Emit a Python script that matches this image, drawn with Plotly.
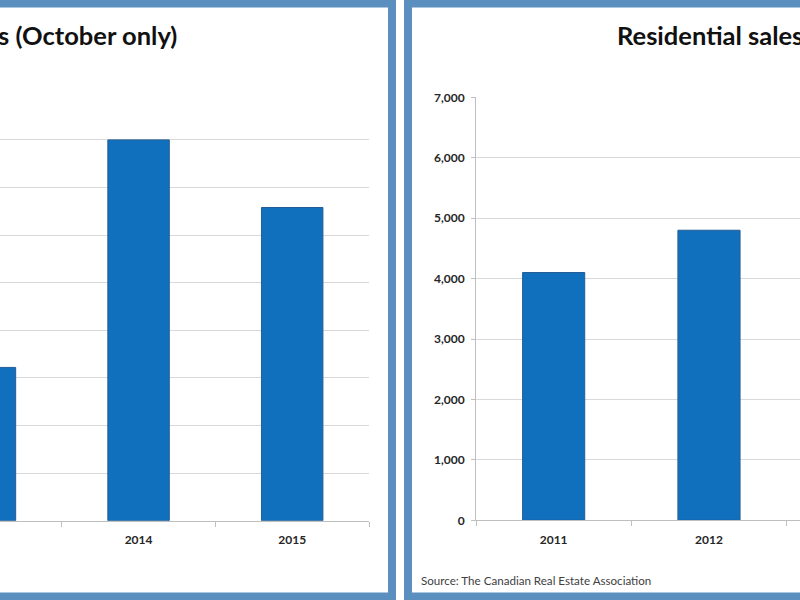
import plotly.graph_objects as go

# Left panel (partially visible): October-only values
left_years = ["2013", "2014", "2015"]
left_values = [161, 400, 329]
left_title = "Residential sales (October only)"

# Right panel (partially visible)
right_years = ["2011", "2012"]
right_values = [4100, 4800]
right_title = "Residential sales (October only)"
right_ticks = [0, 1000, 2000, 3000, 4000, 5000, 6000, 7000]
right_ticklabels = ["0", "1,000", "2,000", "3,000", "4,000", "5,000", "6,000", "7,000"]
source_text = "Source: The Canadian Real Estate Association"

W, H = 800, 600
BAR = "#1170BD"
BAR_EDGE = "#245C94"
FRAME = "#5A8FBF"
GRID = "#D9D9D9"
AXIS = "#BFBFBF"
FONT = "Lato, Carlito, 'Open Sans', sans-serif"

fig = go.Figure()
fig.add_trace(go.Bar(x=left_years, y=left_values, width=0.4,
                     marker=dict(color=BAR, line=dict(color=BAR_EDGE, width=1)),
                     xaxis="x", yaxis="y", showlegend=False))
fig.add_trace(go.Bar(x=right_years, y=right_values, width=0.4,
                     marker=dict(color=BAR, line=dict(color=BAR_EDGE, width=1)),
                     xaxis="x2", yaxis="y2", showlegend=False))

def px(x):
    return x / W

def py(y):
    return (H - y) / H

TICKFONT = dict(size=12, color="#262626", family=FONT, weight="bold")

fig.update_layout(
    width=W, height=H,
    margin=dict(l=0, r=0, t=0, b=0, autoexpand=False),
    paper_bgcolor="white", plot_bgcolor="white",
    font=dict(family=FONT, color="#262626"),
    xaxis=dict(domain=[0, px(369)], type="category", range=[0.098, 2.5],
               automargin=False,
               tickson="boundaries", ticks="outside", ticklen=5, tickcolor=AXIS,
               showline=True, linecolor=AXIS, linewidth=1, showgrid=False,
               tickfont=TICKFONT, ticklabelstandoff=8),
    yaxis=dict(domain=[py(520.7), py(92.3)], range=[0, 450], dtick=50,
               automargin=False,
               showgrid=True, gridcolor=GRID, gridwidth=1, zeroline=False,
               showticklabels=False, showline=False),
    xaxis2=dict(domain=[px(476), 1.0], type="category", range=[-0.5, 1.586],
                anchor="y2", automargin=False,
                tickson="boundaries", ticks="outside", ticklen=5, tickcolor=AXIS,
                showline=True, linecolor=AXIS, linewidth=1, showgrid=False,
                tickfont=TICKFONT, ticklabelstandoff=8),
    yaxis2=dict(domain=[py(520.3), py(97.3)], range=[0, 7000], anchor="x2",
                automargin=False,
                tickvals=right_ticks, ticktext=right_ticklabels,
                ticks="outside", ticklen=4, tickcolor=AXIS,
                showgrid=True, gridcolor=GRID, gridwidth=1, zeroline=False,
                showline=True, linecolor=AXIS, linewidth=1,
                tickfont=TICKFONT, ticklabelstandoff=4),
)

# Panel frames
fig.add_shape(type="rect", xref="paper", yref="paper",
              x0=px(-100), x1=px(392), y0=py(596.5), y1=py(3.5),
              line=dict(color=FRAME, width=8), fillcolor="rgba(0,0,0,0)")
fig.add_shape(type="rect", xref="paper", yref="paper",
              x0=px(408), x1=px(900), y0=py(596.5), y1=py(3.5),
              line=dict(color=FRAME, width=8), fillcolor="rgba(0,0,0,0)")

# Titles
fig.add_annotation(text="<b>" + left_title + "</b>", xref="paper", yref="paper",
                   x=px(179), y=py(35), xanchor="right", yanchor="middle",
                   showarrow=False, font=dict(size=25.5, color="#111111", family=FONT))
fig.add_annotation(text="<b>" + right_title + "</b>", xref="paper", yref="paper",
                   x=px(615), y=py(35), xanchor="left", yanchor="middle",
                   showarrow=False, font=dict(size=25.5, color="#111111", family=FONT))

# Source
fig.add_annotation(text=source_text, xref="paper", yref="paper",
                   x=px(419), y=py(580), xanchor="left", yanchor="middle",
                   showarrow=False, font=dict(size=11.6, color="#404040", family=FONT))

fig.write_html("out.html",
               config={"displayModeBar": False},
               post_script="document.body.style.margin='0px';document.body.style.overflow='hidden';")
